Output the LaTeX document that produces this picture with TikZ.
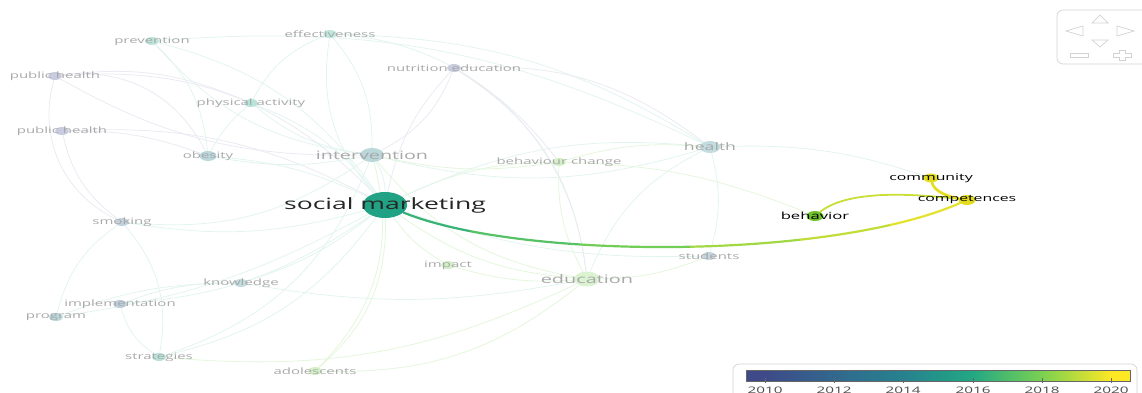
\documentclass[tikz,border=0pt]{standalone}
\usepackage{fontspec}
\setmainfont{Open Sans}
\usepackage{tikz}
\usetikzlibrary{positioning,backgrounds}
\definecolor{yr10}{HTML}{3E4A89}
\definecolor{yr12}{HTML}{31688E}
\definecolor{yr14}{HTML}{26828E}
\definecolor{yr16}{HTML}{22A884}
\definecolor{yr18}{HTML}{7AD151}
\definecolor{yr20}{HTML}{FDE725}
\definecolor{lblgray}{HTML}{A8A8A8}
\definecolor{widget}{HTML}{D2D2D2}
\definecolor{smfill}{HTML}{22A284}
\definecolor{behfill}{HTML}{70C12C}
\definecolor{compfill}{HTML}{E4DC1E}
\pgfdeclarehorizontalshading{yearbar}{100bp}{color(0bp)=(yr10); color(27.5bp)=(yr10); color(36.5bp)=(yr12); color(45.5bp)=(yr14); color(54.5bp)=(yr16); color(63.5bp)=(yr18); color(72.5bp)=(yr20); color(100bp)=(yr20)}
\tikzset{kw/.style={circle,inner sep=0pt,draw=none,minimum size=8pt,xscale=1.7}}
\tikzset{lbl/.style={text=lblgray,xscale=1.7,font=\fontsize{8.8}{8.8}\selectfont}}
\tikzset{hot/.style={text=black,xscale=1.7,font=\fontsize{9.3}{9.3}\selectfont}}
\tikzset{yearlbl/.style={below=0pt,text=black!70,xscale=1.7,font=\fontsize{9}{9}\selectfont}}
\tikzset{weak/.style={draw=yr16!13,line width=0.8pt}}
\tikzset{weakp/.style={draw=yr10!11,line width=0.8pt}}
\tikzset{weakg/.style={draw=yr18!20,line width=0.8pt}}
\tikzset{strong/.style={line width=2.2pt,line cap=round}}
% piece of the long link, clipped to a strip
\newcommand{\smpiece}[3]{\begin{scope}\clip (#1,150) rectangle (#2,300);
  \draw[strong,draw=#3] (sm) .. controls (520,260) and (830,260) .. (comp);\end{scope}}

\begin{document}
\begin{tikzpicture}[x=1pt, y=-1pt]
\useasboundingbox (0,0) rectangle (1142,392);
    % keywords
    \node[kw, fill=smfill, minimum size=26pt, label={[lbl, text=black!85, font=\fontsize{15.6}{15.6}\selectfont]center:social marketing}] (sm) at (385,205) {};
    \node[kw, fill=yr14!32, minimum size=14pt, label={[lbl, font=\fontsize{11.6}{11.6}\selectfont]center:intervention}] (int) at (372,155) {};
    \node[kw, fill=yr16!28, label={[lbl]center:effectiveness}] (eff) at (330,34) {};
    \node[kw, fill=yr16!30, label={[lbl]center:prevention}] (prev) at (152,41) {};
    \node[kw, fill=yr10!28, label={[lbl]center:public health}] (ph1) at (55,76) {};
    \node[kw, fill=yr10!28, label={[lbl]center:public health}] (ph2) at (62,131) {};
    \node[kw, fill=yr16!32, label={[lbl]center:physical activity}] (pa) at (251,103) {};
    \node[kw, fill=yr10!28, label={[lbl]center:nutrition education}] (nutr) at (454,68) {};
    \node[kw, fill=yr14!32, minimum size=10pt, label={[lbl]center:obesity}] (obes) at (208,156) {};
    \node[kw, fill=yr18!32, label={[lbl]center:behaviour change}] (bc) at (559,162) {};
    \node[kw, fill=yr14!28, minimum size=12pt, label={[lbl, font=\fontsize{10.4}{10.4}\selectfont]center:health}] (health) at (710,147) {};
    \node[kw, fill=yr12!28, label={[lbl]center:students}] (stud) at (709,256) {};
    \node[kw, fill=yr18!32, label={[lbl]center:impact}] (imp) at (448,265) {};
    \node[kw, fill=yr18!26, minimum size=15pt, label={[lbl, font=\fontsize{11.7}{11.7}\selectfont]center:education}] (edu) at (587,279) {};
    \node[kw, fill=yr12!30, label={[lbl]center:smoking}] (smok) at (122,222) {};
    \node[kw, fill=yr14!28, label={[lbl]center:knowledge}] (know) at (241,283) {};
    \node[kw, fill=yr12!32, label={[lbl]center:implementation}] (impl) at (120,304) {};
    \node[kw, fill=yr14!32, label={[lbl]center:program}] (prog) at (56,317) {};
    \node[kw, fill=yr16!32, label={[lbl]center:strategies}] (strat) at (159,357) {};
    \node[kw, fill=yr18!32, label={[lbl]center:adolescents}] (adol) at (315,371) {};
    \node[kw, fill=behfill, minimum size=10pt, label={[hot, font=\fontsize{9.8}{9.8}\selectfont]center:behavior}] (beh) at (815,216) {};
    \node[kw, fill=compfill, minimum size=9pt, label={[hot]center:community}] (comm) at (931,178) {};
    \node[kw, fill=compfill, minimum size=10pt, label={[hot]center:competences}] (comp) at (967,200) {};

    % links
    \begin{scope}[on background layer]
    \path (sm) edge[weak, bend right=15] (int);
    \path (sm) edge[weak, bend left=25] (eff);
    \path (sm) edge[weak, bend right=20] (prev);
    \path (sm) edge[weakp, bend right=25] (ph1);
    \path (sm) edge[weakp, bend right=15] (ph2);
    \path (sm) edge[weak, bend right=15] (pa);
    \path (sm) edge[weakp, bend left=15] (nutr);
    \path (sm) edge[weak, bend right=10] (obes);
    \path (sm) edge[weakg, bend left=12] (bc);
    \path (sm) edge[weak, bend left=15] (health);
    \path (sm) edge[weak, bend right=10] (stud);
    \path (sm) edge[weakg, bend right=12] (imp);
    \path (sm) edge[weakg, bend right=15] (edu);
    \path (sm) edge[weak, bend left=12] (smok);
    \path (sm) edge[weak, bend left=10] (know);
    \path (sm) edge[weak, bend left=15] (impl);
    \path (sm) edge[weak, bend left=10] (prog);
    \path (sm) edge[weak, bend left=20] (strat);
    \path (sm) edge[weakg, bend left=25] (adol);
    \path (int) edge[weak, bend right=20] (eff);
    \path (int) edge[weak, bend left=15] (pa);
    \path (int) edge[weak, bend left=10] (obes);
    \path (int) edge[weakp, bend right=20] (nutr);
    \path (int) edge[weak, bend left=20] (prev);
    \path (int) edge[weakp, bend left=15] (ph1);
    \path (int) edge[weakg, bend right=20] (edu);
    \path (int) edge[weak, bend right=15] (health);
    \path (int) edge[weakg, bend right=10] (bc);
    \path (int) edge[weakg, bend left=30] (adol);
    \path (int) edge[weak, bend left=20] (smok);
    \path (int) edge[weak, bend left=25] (strat);
    \path (ph1) edge[weakp, bend right=40] (smok);
    \path (ph1) edge[weakp, bend left=15] (pa);
    \path (ph1) edge[weakp, bend left=35] (obes);
    \path (ph2) edge[weakp, bend right=20] (smok);
    \path (ph2) edge[weakp, bend left=10] (obes);
    \path (prev) edge[weak, bend left=15] (health);
    \path (prev) edge[weak, bend left=20] (obes);
    \path (eff) edge[weak, bend left=15] (health);
    \path (eff) edge[weak, bend left=40] (edu);
    \path (eff) edge[weak, bend right=20] (pa);
    \path (nutr) edge[weakp, bend left=20] (health);
    \path (nutr) edge[weakp, bend left=25] (edu);
    \path (nutr) edge[weakp, bend left=10] (bc);
    \path (pa) edge[weak, bend right=10] (obes);
    \path (bc) edge[weakg, bend left=10] (health);
    \path (bc) edge[weakg, bend right=15] (edu);
    \path (bc) edge[weakg, bend left=10] (beh);
    \path (health) edge[weak, bend left=10] (comm);
    \path (health) edge[weak, bend left=15] (stud);
    \path (health) edge[weak, bend right=20] (edu);
    \path (edu) edge[weakg, bend right=10] (stud);
    \path (imp) edge[weakg, bend right=10] (edu);
    \path (know) edge[weak, bend right=10] (edu);
    \path (strat) edge[weakg, bend right=15] (edu);
    \path (adol) edge[weakg, bend right=20] (edu);
    \path (smok) edge[weak, bend right=20] (prog);
    \path (impl) edge[weak, bend left=10] (know);
    \path (prog) edge[weak, bend left=10] (know);
    \path (impl) edge[weak, bend right=20] (strat);
    \path (smok) edge[weak, bend left=25] (strat);
    % highlighted links
    \smpiece{360}{470}{yr16!75!yr18}
    \smpiece{470}{580}{yr16!40!yr18}
    \smpiece{580}{690}{yr18!90!yr16}
    \smpiece{690}{800}{yr18!70!yr20}
    \smpiece{800}{890}{yr18!45!yr20}
    \smpiece{890}{990}{yr18!20!yr20}
    \draw[strong, line width=1.8pt, draw=yr18!40!yr20] (beh) .. controls (845,192) and (900,192) .. (comp);
    \draw[strong, line width=2.6pt, draw=compfill] (comm) .. controls (934,192) and (950,197) .. (comp);
    \end{scope}

    % zoom widget
    \draw[widget, line width=0.7pt, rounded corners=6pt] (1057,10) rectangle (1160,64);
    \draw[widget, line width=0.7pt] (1092,23) -- (1100,15) -- (1108,23) -- cycle;
    \draw[widget, line width=0.7pt] (1083,26) -- (1066,31) -- (1083,36) -- cycle;
    \draw[widget, line width=0.7pt] (1117,26) -- (1134,31) -- (1117,36) -- cycle;
    \draw[widget, line width=0.7pt] (1092,40) -- (1100,47) -- (1108,40) -- cycle;
    \draw[widget, line width=0.7pt] (1070,53) rectangle (1088,57);
    \draw[widget, line width=0.7pt] (1119,50) -- (1125,50) -- (1125,53) -- (1131,53) -- (1131,57) -- (1125,57) -- (1125,60) -- (1119,60) -- (1119,57) -- (1113,57) -- (1113,53) -- (1119,53) -- cycle;

    % year scale
    \draw[widget, line width=0.7pt, rounded corners=6pt, fill=white] (733,364) rectangle (1137,404);
    \node[draw=black!60, line width=0.4pt, shading=yearbar, minimum width=384pt, minimum height=11pt, inner sep=0pt] (bar) at (938,375.5) {};
    \draw[black!60] (765,378) -- (765,383) node[yearlbl] {2010};
    \draw[black!60] (834,378) -- (834,383) node[yearlbl] {2012};
    \draw[black!60] (903,378) -- (903,383) node[yearlbl] {2014};
    \draw[black!60] (973,378) -- (973,383) node[yearlbl] {2016};
    \draw[black!60] (1042,378) -- (1042,383) node[yearlbl] {2018};
    \draw[black!60] (1111,378) -- (1111,383) node[yearlbl] {2020};
\end{tikzpicture}
\end{document}
